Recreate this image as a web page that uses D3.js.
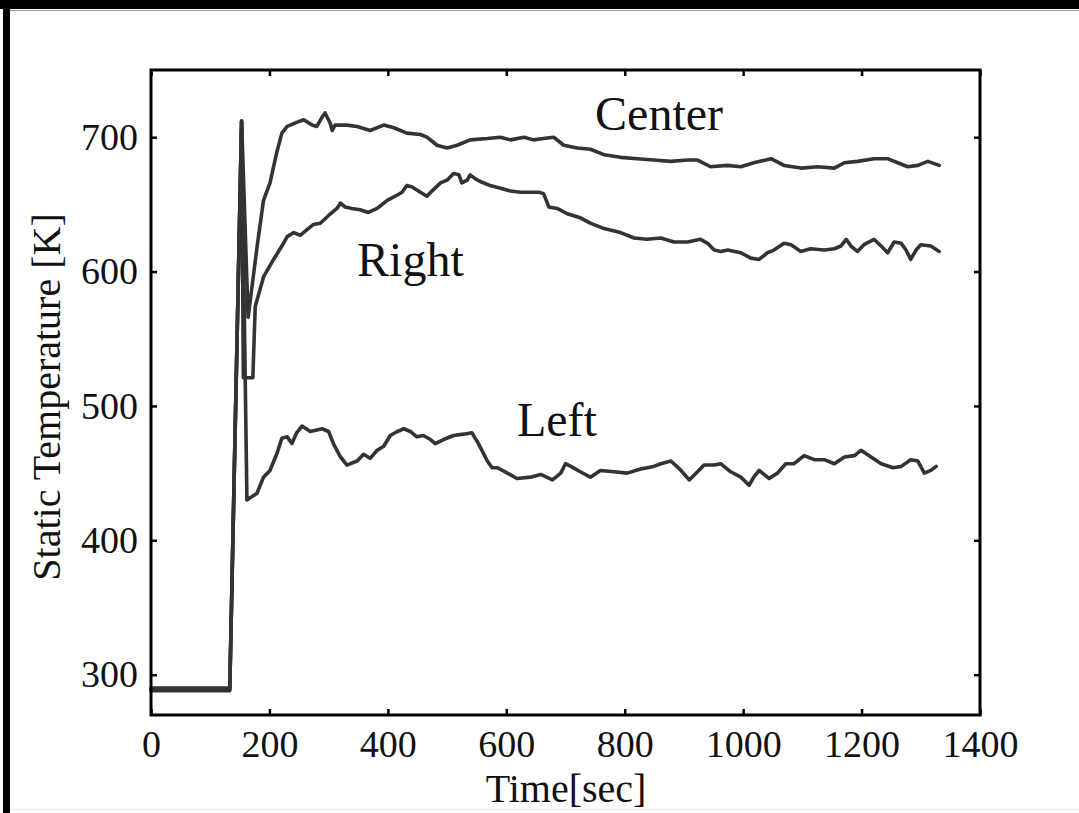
<!DOCTYPE html>
<html>
<head>
<meta charset="utf-8">
<script src="https://cdn.jsdelivr.net/npm/d3@7"></script>
<style>
  html, body { margin: 0; padding: 0; background: #fff; }
  svg { display: block; }
  text { font-family: "Liberation Serif", "Times New Roman", serif; fill: #111; }
</style>
</head>
<body>
<svg id="chart" width="1079" height="813"></svg>
<script>
// ---- data (time [sec], static temperature [K]) ----
const xTicks = [0, 200, 400, 600, 800, 1000, 1200, 1400];
const yTicks = [300, 400, 500, 600, 700];
const seriesNames = ["Center", "Right", "Left"];

const centerData = [
  [0,288],[133,288],[153,712],[164,566],[179,618],[190,653],[201,666],[212,688],[221,703],[230,708],
  [246,711],[258,713],[272,709],[280,708],[289,715],[294,718],[303,710],[306,705],[311,709],[331,709],
  [348,708],[370,705],[393,709],[410,707],[432,703],[455,702],[466,700],[483,694],[500,692],[517,694],
  [539,698],[568,699],[590,700],[607,698],[630,700],[646,698],[663,699],[680,700],[697,694],[720,692],
  [742,691],[765,687],[793,685],[821,684],[849,683],[878,682],[906,683],[923,683],[945,678],[973,679],
  [996,678],[1018,681],[1047,684],[1069,679],[1098,677],[1126,678],[1154,677],[1171,681],[1193,682],
  [1221,684],[1244,684],[1261,681],[1278,678],[1295,679],[1312,682],[1331,679]
];

const rightData = [
  [0,289],[133,289],[153,712],[156,521],[172,521],[176,574],[190,596],[207,609],[221,619],[230,626],
  [241,629],[252,627],[263,631],[274,635],[286,636],[291,638],[303,643],[314,647],[320,651],[328,648],
  [339,647],[353,646],[367,644],[382,647],[399,653],[416,657],[424,659],[432,664],[441,663],[455,659],
  [466,656],[477,661],[489,666],[500,668],[511,673],[520,672],[525,666],[534,668],[539,672],[548,669],
  [556,667],[573,664],[590,662],[607,660],[624,659],[641,659],[655,659],[663,658],[672,648],[686,647],
  [703,643],[725,640],[742,636],[765,632],[793,629],[816,625],[838,624],[861,625],[883,622],[906,622],
  [928,624],[940,621],[951,616],[962,615],[974,616],[996,614],[1013,610],[1027,609],[1041,614],
  [1052,616],[1069,621],[1081,620],[1097,615],[1114,617],[1137,616],[1154,617],[1165,619],[1174,624],
  [1182,619],[1193,615],[1204,620],[1221,624],[1233,619],[1244,614],[1255,622],[1267,621],[1275,616],
  [1283,609],[1292,616],[1300,620],[1317,619],[1331,615]
];

const leftData = [
  [0,290],[133,290],[153,712],[162,430],[179,435],[190,447],[201,452],[213,465],[221,476],[230,477],
  [238,472],[246,480],[255,485],[269,481],[289,483],[300,481],[308,472],[320,462],[331,456],[348,459],
  [359,464],[370,461],[382,467],[393,470],[404,478],[416,481],[427,483],[438,481],[449,477],[460,478],
  [472,475],[480,472],[494,475],[511,478],[528,479],[542,480],[553,472],[568,459],[576,454],[585,454],
  [602,450],[618,446],[641,447],[658,449],[678,445],[692,450],[700,457],[709,455],[725,451],[742,447],
  [759,452],[782,451],[804,450],[827,453],[849,455],[861,457],[878,459],[895,452],[909,445],[923,451],
  [934,456],[951,456],[962,457],[979,451],[996,447],[1010,441],[1018,447],[1027,452],[1044,446],
  [1058,450],[1072,457],[1086,457],[1103,463],[1120,460],[1137,460],[1154,457],[1171,462],[1188,463],
  [1199,467],[1216,462],[1233,457],[1253,454],[1267,455],[1283,460],[1295,459],[1306,450],[1317,452],
  [1326,455]
];

const labels = [
  { name: "Center", t: 750, k: 705 },
  { name: "Right",  t: 348, k: 597 },
  { name: "Left",   t: 618, k: 478 }
];

// ---- layout ----
const svg = d3.select("#chart");
const W = 1079, H = 813;
const plot = { left: 151, right: 980, top: 70, bottom: 715 };

const x = d3.scaleLinear().domain([0, 1400]).range([plot.left, plot.right]);
const y = d3.scaleLinear().domain([270, 750]).range([plot.bottom, plot.top]);

svg.append("rect").attr("x", 0).attr("y", 0).attr("width", W).attr("height", H).attr("fill", "#fff");

// outer picture border (scanned-frame look)
svg.append("rect").attr("x", 0).attr("y", 0).attr("width", W).attr("height", 9).attr("fill", "#000");
svg.append("rect").attr("x", 3).attr("y", 0).attr("width", 7).attr("height", H).attr("fill", "#000");
svg.append("line").attr("x1", 10).attr("x2", W).attr("y1", 10.5).attr("y2", 10.5)
   .attr("stroke", "#999").attr("stroke-width", 1);
svg.append("line").attr("x1", 10).attr("x2", W).attr("y1", 809.5).attr("y2", 809.5)
   .attr("stroke", "#e6e6e6").attr("stroke-width", 1);

const tickFont = 38;

// axes
const gx = svg.append("g").attr("transform", `translate(0,${plot.bottom})`)
  .call(d3.axisBottom(x).tickValues(xTicks).tickFormat(d3.format("d"))
        .tickSizeInner(-6).tickSizeOuter(0).tickPadding(15));
const gxt = svg.append("g").attr("transform", `translate(0,${plot.top})`)
  .call(d3.axisTop(x).tickValues(xTicks).tickFormat("").tickSizeInner(-6).tickSizeOuter(0));
const gy = svg.append("g").attr("transform", `translate(${plot.left},0)`)
  .call(d3.axisLeft(y).tickValues(yTicks).tickFormat(d3.format("d"))
        .tickSizeInner(-6).tickSizeOuter(0).tickPadding(13));
const gyr = svg.append("g").attr("transform", `translate(${plot.right},0)`)
  .call(d3.axisRight(y).tickValues(yTicks).tickFormat("").tickSizeInner(-6).tickSizeOuter(0));

[gx, gxt, gy, gyr].forEach(g => {
  g.select(".domain").remove();
  g.selectAll(".tick line").attr("stroke", "#000").attr("stroke-width", 2.5);
  g.selectAll(".tick text").attr("font-size", tickFont)
   .attr("font-family", "Liberation Serif, Times New Roman, serif").attr("fill", "#222");
});

// series lines
const line = d3.line().x(d => x(d[0])).y(d => y(d[1])).curve(d3.curveLinear);
const allSeries = [centerData, rightData, leftData];
svg.append("g").selectAll("path").data(allSeries).join("path")
  .attr("d", line)
  .attr("fill", "none")
  .attr("stroke", "#333")
  .attr("stroke-width", 3.6)
  .attr("stroke-linejoin", "round")
  .attr("stroke-linecap", "round");

// frame
svg.append("rect")
  .attr("x", plot.left).attr("y", plot.top)
  .attr("width", plot.right - plot.left).attr("height", plot.bottom - plot.top)
  .attr("fill", "none").attr("stroke", "#000").attr("stroke-width", 3);

// series annotations
svg.append("g").selectAll("text").data(labels).join("text")
  .attr("x", d => x(d.t)).attr("y", d => y(d.k))
  .attr("font-size", 48)
  .text(d => d.name);

// axis titles
svg.append("text")
  .attr("x", 566).attr("y", 802)
  .attr("text-anchor", "middle").attr("font-size", 40).attr("fill", "#222")
  .text("Time[sec]");

svg.append("text")
  .attr("transform", `translate(60,397) rotate(-90)`)
  .attr("text-anchor", "middle").attr("font-size", 40).attr("fill", "#222")
  .text("Static Temperature [K]");
</script>
</body>
</html>
